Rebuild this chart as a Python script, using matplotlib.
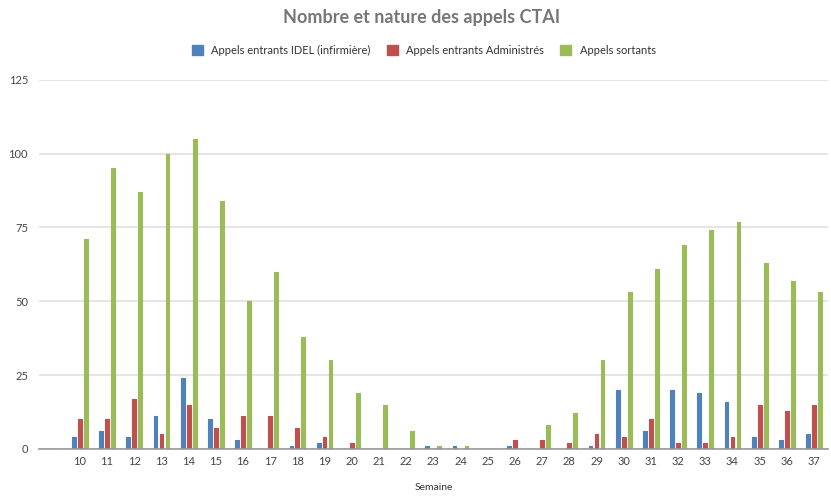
import numpy as np
import matplotlib.pyplot as plt
from matplotlib.patches import Patch

plt.rcParams['font.family'] = ['Lato', 'DejaVu Sans']

# données (semaine vide au début comme dans l'original)
semaines = ["", "10", "11", "12", "13", "14", "15", "16", "17", "18", "19", "20", "21", "22",
            "23", "24", "25", "26", "27", "28", "29", "30", "31", "32", "33", "34", "35", "36", "37"]
appels_idel = [0, 4, 6, 4, 11, 24, 10, 3, 0, 1, 2, 0, 0, 0,
               1, 1, 0, 1, 0, 0, 1, 20, 6, 20, 19, 16, 4, 3, 5]
appels_admin = [0, 10, 10, 17, 5, 15, 7, 11, 11, 7, 4, 2, 0, 0,
                0, 0, 0, 3, 3, 2, 5, 4, 10, 2, 2, 4, 15, 13, 15]
appels_sortants = [0, 71, 95, 87, 100, 105, 84, 50, 60, 38, 30, 19, 15, 6,
                   1, 1, 0, 0, 8, 12, 30, 53, 61, 69, 74, 77, 63, 57, 53]

series = [
    ("Appels entrants IDEL (infirmière)", appels_idel, "#4F81BD"),
    ("Appels entrants Administrés", appels_admin, "#C0504D"),
    ("Appels sortants", appels_sortants, "#9BBB59"),
]

fig = plt.figure(figsize=(8.31, 4.96), dpi=100)
ax = fig.add_axes([0.047, 0.095, 0.949, 0.744])

x = np.arange(len(semaines))
offsets = [-0.22, 0.0, 0.22]
width = 0.14
for (label, vals, color), off in zip(series, offsets):
    ax.bar(x + off, vals, width=width, color=color, edgecolor=color,
           linewidth=0.8, joinstyle='round', zorder=3)

ax.set_xlim(-0.5, len(semaines) - 0.5)
ax.set_ylim(0, 125)
ax.set_yticks([0, 25, 50, 75, 100, 125])
ax.set_xticks(x)
ax.set_xticklabels(semaines)
ax.tick_params(axis='both', length=0, labelsize=8, labelcolor='#444444')
ax.tick_params(axis='y', pad=8)
ax.tick_params(axis='x', pad=5)
ax.grid(axis='y', color='#e0e0e0', linewidth=1.2, zorder=0)
ax.set_axisbelow(True)
for s in ['top', 'right', 'left']:
    ax.spines[s].set_visible(False)
ax.spines['bottom'].set_color('#999999')
ax.spines['bottom'].set_linewidth(1.2)
ax.spines['bottom'].set_zorder(4)

ax.set_xlabel("Semaine", fontsize=7.5, color='#333333', labelpad=12)

fig.text(0.507, 0.965, "Nombre et nature des appels CTAI", ha='center', va='center',
         fontsize=13, fontweight='bold', color='#767676')

handles = [Patch(facecolor=c, edgecolor=c, label=l) for l, _, c in series]
fig.legend(handles=handles, loc='center', bbox_to_anchor=(0.51, 0.898), ncol=3,
           frameon=False, fontsize=8, handlelength=1.0, handleheight=1.0,
           columnspacing=1.45, handletextpad=0.75, labelcolor='#333333')

fig.savefig("out.png", dpi=100, facecolor='white')
